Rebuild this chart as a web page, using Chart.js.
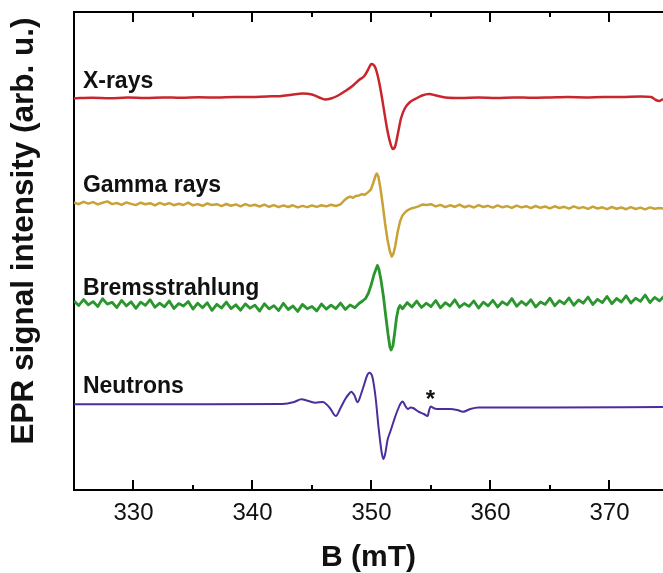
<!DOCTYPE html>
<html>
<head>
<meta charset="utf-8">
<script src="https://cdn.jsdelivr.net/npm/chart.js@4"></script>
<style>
  html, body { margin: 0; padding: 0; background: #fff; overflow: hidden; }
  canvas { display: block; }
</style>
</head>
<body>
<canvas id="epr" width="663" height="573"></canvas>
<script>
// B axis ticks (mT)
const fieldTicks = [330, 340, 350, 360, 370];
const minorTicks = [335, 345, 355, 365];

const seriesNames = ['X-rays', 'Gamma rays', 'Bremsstrahlung', 'Neutrons'];
const seriesColors = ['#c8262c', '#c9a237', '#2a962d', '#4b2e9b'];

// X-rays spectrum (offset, arb. u.)
const xrayField = [325.0, 326.5, 328.0, 329.5, 331.0, 332.5, 334.0, 335.5, 337.0, 338.5, 340.0, 341.2, 342.3, 343.3, 344.2, 345.0, 345.6, 346.1, 346.6, 347.2, 347.8, 348.4, 348.95, 349.4, 349.7, 350.0, 350.3, 350.55, 350.8, 351.05, 351.3, 351.56, 351.79, 352.0, 352.23, 352.49, 352.82, 353.24, 353.75, 354.25, 354.84, 355.43, 356.2, 357.5, 359.0, 360.5, 362.0, 363.5, 365.0, 366.5, 368.0, 369.5, 371.0, 372.6, 373.5, 373.9, 374.2, 374.5];
const xrayIntensity = [391.7, 392.3, 391.8, 392.4, 392.0, 392.6, 392.2, 392.8, 392.4, 393.1, 393.0, 393.6, 393.8, 395.2, 396.5, 395.5, 392.5, 390.5, 391.5, 394.5, 399.0, 404.0, 410.0, 414.0, 420.0, 426.0, 423.0, 413.0, 398.0, 380.0, 362.0, 348.0, 341.0, 344.0, 357.0, 372.0, 382.0, 388.0, 391.5, 394.5, 396.0, 394.5, 392.5, 392.0, 392.4, 392.0, 392.6, 392.2, 392.5, 392.9, 392.6, 393.1, 393.0, 393.5, 393.0, 390.0, 389.0, 391.0];

// Gamma rays spectrum
const gammaField = [325.0, 325.4, 325.8, 326.2, 326.6, 327.0, 327.4, 327.8, 328.2, 328.6, 329.0, 329.4, 329.8, 330.2, 330.6, 331.0, 331.4, 331.8, 332.2, 332.6, 333.0, 333.4, 333.8, 334.2, 334.6, 335.0, 335.4, 335.8, 336.2, 336.6, 337.0, 337.4, 337.8, 338.2, 338.6, 339.0, 339.4, 339.8, 340.2, 340.6, 341.0, 341.4, 341.8, 342.2, 342.6, 343.0, 343.4, 343.8, 344.2, 344.6, 345.0, 345.4, 345.8, 346.2, 346.6, 347.0, 347.4,
  347.7, 347.95, 348.2, 348.45, 348.7, 348.95, 349.2, 349.45, 349.7, 349.95, 350.15, 350.35, 350.45, 350.58, 350.75, 350.95, 351.15, 351.35, 351.55, 351.7, 351.85, 352.0, 352.2, 352.4, 352.6, 352.85, 353.1, 353.4, 353.7, 354.0, 354.3, 354.6,
  355.0, 355.4, 355.8, 356.2, 356.6, 357.0, 357.4, 357.8, 358.2, 358.6, 359.0, 359.4, 359.8, 360.2, 360.6, 361.0, 361.4, 361.8, 362.2, 362.6, 363.0, 363.4, 363.8, 364.2, 364.6, 365.0, 365.4, 365.8, 366.2, 366.6, 367.0, 367.4, 367.8, 368.2, 368.6, 369.0, 369.4, 369.8, 370.2, 370.6, 371.0, 371.4, 371.8, 372.2, 372.6, 373.0, 373.4, 373.8, 374.2, 374.6];
const gammaIntensity = [287.5, 285.8, 288.2, 286.4, 287.9, 285.6, 287.2, 288.6, 285.9, 287.0, 285.2, 287.6, 286.1, 284.9, 287.3, 285.7, 286.8, 284.6, 287.1, 285.3, 286.9, 284.8, 286.2, 285.0, 287.4, 284.7, 285.9, 284.2, 286.5, 284.9, 285.8, 283.9, 286.0, 284.3, 285.6, 283.7, 285.9, 284.1, 285.2, 283.5, 285.4, 283.2, 284.9, 282.8, 284.6, 283.0, 284.7, 282.6, 284.1, 282.9, 284.5, 283.1, 284.8, 283.6, 285.2, 284.0, 285.6,
  289.5, 292.0, 293.4, 292.2, 294.1, 294.6, 295.8, 295.2, 297.6, 300.5, 307.0, 314.5, 316.5, 313.5, 302.0, 285.0, 266.0, 250.0, 238.5, 233.5, 236.5, 244.0, 258.0, 268.5, 274.5, 278.0, 280.2, 281.8, 282.6, 283.9, 285.6, 285.0,
  285.8, 283.6, 285.1, 282.9, 284.7, 283.2, 285.4, 282.8, 284.3, 282.5, 284.9, 283.0, 284.2, 282.4, 284.6, 282.7, 283.9, 282.1, 284.4, 282.6, 283.8, 281.9, 284.0, 282.2, 283.5, 281.6, 283.7, 282.0, 283.2, 281.4, 283.6, 281.8, 282.9, 281.1, 283.3, 281.5, 282.7, 280.9, 283.0, 281.3, 282.5, 280.8, 282.8, 281.0, 282.4, 280.6, 282.6, 281.2, 282.1, 281.4];

// Bremsstrahlung spectrum
const bremsField = [325.0, 325.4, 325.8, 326.2, 326.6, 327.0, 327.4, 327.8, 328.2, 328.6, 329.0, 329.4, 329.8, 330.2, 330.6, 331.0, 331.4, 331.8, 332.2, 332.6, 333.0, 333.4, 333.8, 334.2, 334.6, 335.0, 335.4, 335.8, 336.2, 336.6, 337.0, 337.4, 337.8, 338.2, 338.6, 339.0, 339.4, 339.8, 340.2, 340.6, 341.0, 341.4, 341.8, 342.2, 342.6, 343.0, 343.4, 343.8, 344.2, 344.6, 345.0, 345.4, 345.8, 346.2, 346.6, 347.0, 347.4, 347.8, 348.2, 348.6,
  348.95, 349.25, 349.5, 349.75, 350.0, 350.2, 350.4, 350.5, 350.62, 350.8, 351.0, 351.2, 351.4, 351.55, 351.65, 351.8, 351.95, 352.1, 352.25, 352.4,
  352.6, 353.0, 353.4, 353.8, 354.2, 354.6, 355.0, 355.4, 355.8, 356.2, 356.6, 357.0, 357.4, 357.8, 358.2, 358.6, 359.0, 359.4, 359.8, 360.2, 360.6, 361.0, 361.4, 361.8, 362.2, 362.6, 363.0, 363.4, 363.8, 364.2, 364.6, 365.0, 365.4, 365.8, 366.2, 366.6, 367.0, 367.4, 367.8, 368.2, 368.6, 369.0, 369.4, 369.8, 370.2, 370.6, 371.0, 371.4, 371.8, 372.2, 372.6, 373.0, 373.4, 373.8, 374.2, 374.6];
const bremsIntensity = [189.0, 184.5, 190.5, 185.2, 188.4, 183.6, 191.2, 185.9, 187.7, 182.4, 189.6, 184.1, 188.2, 181.7, 187.9, 184.6, 190.3, 182.8, 186.9, 183.2, 189.1, 181.5, 186.4, 183.9, 188.6, 180.9, 186.8, 182.3, 187.2, 179.6, 185.7, 182.0, 187.9, 181.4, 185.2, 179.8, 186.1, 181.8, 184.9, 178.9, 186.3, 181.1, 184.4, 179.4, 186.7, 180.5, 184.0, 178.6, 185.6, 181.2, 183.5, 179.1, 186.0, 180.9, 184.8, 181.3, 186.9, 180.6, 185.1, 182.2,
  186.5, 189.0, 191.5, 197.0, 206.0, 215.0, 221.5, 224.5, 221.0, 210.0, 194.0, 174.0, 155.0, 143.0, 140.0, 144.0, 157.0, 172.0, 181.0, 184.5,
  181.2, 187.4, 183.0, 188.9, 182.5, 186.8, 183.4, 189.5, 182.1, 187.3, 184.0, 190.2, 182.8, 186.5, 183.6, 189.1, 181.9, 187.8, 184.2, 189.7, 183.0, 188.2, 185.1, 191.4, 183.7, 188.6, 184.9, 190.3, 183.1, 188.0, 185.6, 191.8, 184.3, 189.4, 186.2, 192.1, 184.7, 190.0, 186.8, 193.0, 185.5, 190.7, 187.4, 193.6, 186.3, 191.5, 188.0, 194.2, 186.9, 191.8, 188.6, 195.0, 187.5, 192.6, 189.1, 194.0];

// Neutrons spectrum
const neutronField = [325.0, 335.0, 342.5, 343.5, 344.1, 344.7, 345.3, 345.9, 346.5, 347.0, 347.4, 347.8, 348.1, 348.3, 348.55, 348.84, 349.1, 349.4, 349.65, 349.82, 349.98, 350.1, 350.35, 350.6, 350.85, 351.0, 351.15, 351.35, 351.6, 351.9, 352.2, 352.45, 352.62, 352.85, 353.05, 353.3, 353.5, 353.95, 354.4, 354.72, 354.85, 354.98, 355.2, 355.5, 356.6, 357.2, 357.7, 358.3, 359.0, 365.0, 374.6];
const neutronIntensity = [85.7, 85.8, 86.0, 88.0, 90.7, 89.0, 87.3, 88.0, 82.0, 74.0, 82.0, 91.0, 96.0, 98.3, 95.0, 87.7, 95.0, 106.0, 115.0, 117.3, 116.0, 112.0, 92.0, 62.0, 38.0, 31.0, 36.0, 50.0, 59.0, 70.0, 80.0, 86.5, 88.5, 84.0, 81.0, 82.5, 82.0, 78.3, 76.0, 74.0, 80.0, 83.5, 82.0, 81.0, 81.0, 80.0, 78.3, 81.0, 82.5, 82.5, 83.0];

// where the series names sit (B, intensity of the text baseline)
const labelField = 325.75;
const labelLevels = [402, 298, 195, 97];
const markField = 354.95;
const markLevel = 90;

const FONT = '"Liberation Sans", Arial, Helvetica, sans-serif';

function pairs(xs, ys) {
  return xs.map((b, i) => ({ x: b, y: ys[i] }));
}

const framePlugin = {
  id: 'frame',
  afterDraw(chart) {
    const { ctx, chartArea: a, scales: { x, y } } = chart;
    ctx.save();
    ctx.strokeStyle = '#000';
    ctx.lineWidth = 2;
    // top border
    ctx.beginPath();
    ctx.moveTo(a.left - 1, a.top);
    ctx.lineTo(a.right + 2, a.top);
    ctx.stroke();
    // inward ticks, top and bottom
    const tick = (v, len) => {
      const px = Math.round(x.getPixelForValue(v));
      ctx.beginPath();
      ctx.moveTo(px, a.bottom);
      ctx.lineTo(px, a.bottom - len);
      ctx.moveTo(px, a.top);
      ctx.lineTo(px, a.top + len);
      ctx.stroke();
    };
    fieldTicks.forEach(v => tick(v, 10));
    minorTicks.forEach(v => tick(v, 5));

    // series names
    ctx.fillStyle = '#111';
    ctx.font = 'bold 23px ' + FONT;
    ctx.textAlign = 'left';
    ctx.textBaseline = 'alphabetic';
    seriesNames.forEach((name, i) => {
      ctx.fillText(name, x.getPixelForValue(labelField), y.getPixelForValue(labelLevels[i]));
    });
    // asterisk on the neutron spectrum
    ctx.font = 'bold 24px ' + FONT;
    ctx.textAlign = 'center';
    ctx.textBaseline = 'middle';
    ctx.fillText('*', x.getPixelForValue(markField), y.getPixelForValue(markLevel));

    // y axis title
    ctx.translate(24.5, 231);
    ctx.rotate(-Math.PI / 2);
    ctx.font = 'bold 31.5px ' + FONT;
    ctx.textAlign = 'center';
    ctx.textBaseline = 'middle';
    ctx.fillText('EPR signal intensity (arb. u.)', 0, 0);
    ctx.restore();
  }
};

const lineStyle = (i, w, smooth) => ({
  borderColor: seriesColors[i],
  borderWidth: w,
  pointRadius: 0,
  fill: false,
  borderJoinStyle: 'round',
  cubicInterpolationMode: smooth ? 'monotone' : 'default',
  tension: 0
});

new Chart(document.getElementById('epr'), {
  type: 'line',
  data: {
    datasets: [
      { label: seriesNames[0], data: pairs(xrayField, xrayIntensity), ...lineStyle(0, 2.5, true) },
      { label: seriesNames[1], data: pairs(gammaField, gammaIntensity), ...lineStyle(1, 2.5, false) },
      { label: seriesNames[2], data: pairs(bremsField, bremsIntensity), ...lineStyle(2, 2.8, false) },
      { label: seriesNames[3], data: pairs(neutronField, neutronIntensity), ...lineStyle(3, 2, true) }
    ]
  },
  options: {
    responsive: false,
    animation: false,
    layout: { padding: { top: 12, right: 0, left: 0, bottom: 0 } },
    plugins: { legend: { display: false }, tooltip: { enabled: false } },
    scales: {
      x: {
        type: 'linear',
        min: 325,
        max: 374.5,
        afterBuildTicks: s => { s.ticks = fieldTicks.map(v => ({ value: v })); },
        afterFit: s => { s.height = 83; },
        grid: { display: false, drawTicks: false },
        border: { display: true, color: '#000', width: 2 },
        ticks: { color: '#111', padding: 9, maxRotation: 0, font: { family: FONT, size: 24 } },
        title: {
          display: true,
          text: 'B (mT)',
          color: '#111',
          padding: { top: 0, bottom: 0 },
          font: { family: FONT, size: 30, weight: 'bold', lineHeight: 1 }
        }
      },
      y: {
        min: 0,
        max: 478,
        afterFit: s => { s.width = 74; },
        grid: { display: false, drawTicks: false },
        border: { display: true, color: '#000', width: 2 },
        ticks: { display: false }
      }
    }
  },
  plugins: [framePlugin]
});
</script>
</body>
</html>
